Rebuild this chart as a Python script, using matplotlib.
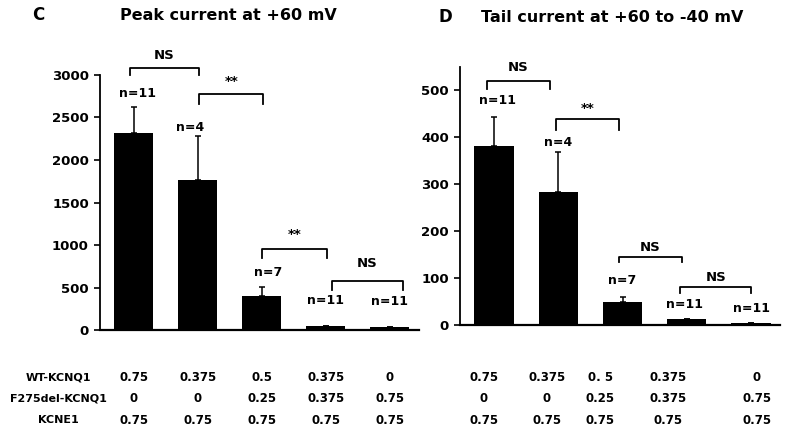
import numpy as np
import matplotlib
matplotlib.use("Agg")
import matplotlib.pyplot as plt
from matplotlib.transforms import blended_transform_factory

plt.rcParams['font.family'] = ['DejaVu Sans']
plt.rcParams['font.weight'] = 'bold'

# data
peak_mean = [2320, 1760, 400, 50, 35]
peak_err = [300, 520, 105, 0, 0]
tail_mean = [381, 283, 49, 12, 4]
tail_err = [62, 85, 11, 0, 0]
n_labels = ['n=11', 'n=4', 'n=7', 'n=11', 'n=11']

row_names = ['WT-KCNQ1', 'F275del-KCNQ1', 'KCNE1']
wt_left = ['0.75', '0.375', '0.5', '0.375', '0']
wt_right = ['0.75', '0.375', '0. 5', '0.375', '0']
f275_vals = ['0', '0', '0.25', '0.375', '0.75']
kcne1_vals = ['0.75', '0.75', '0.75', '0.75', '0.75']

# brackets: (x0, x1, y bar, y legs, label, y label)
peak_brackets = [(-0.06, 1.02, 3082, 3000, 'NS', 3235),
                 (1.02, 2.02, 2776, 2660, '**', 2929),
                 (2.0, 3.02, 953, 847, '**', 1118),
                 (3.1, 4.2, 576, 470, 'NS', 788)]
tail_brackets = [(-0.11, 0.87, 521, 504, 'NS', 549),
                 (0.96, 1.94, 440, 415, '**', 462),
                 (1.94, 2.93, 145, 134, 'NS', 166),
                 (2.9, 4.0, 81, 68, 'NS', 102)]
peak_n_y = [2788, 2388, 682, 353, 330]
tail_n_y = [479, 389, 94, 43, 36]

fig = plt.figure(figsize=(7.89, 4.36), dpi=100)
axL = fig.add_axes([0.1267, 0.2431, 0.404, 0.5849])
axR = fig.add_axes([0.583, 0.2546, 0.4056, 0.5917])

x = np.arange(5)


def draw_panel(ax, means, errs, ylim, yticks, brackets, n_y, n_dx):
    ax.bar(x, means, width=0.61, color='black', zorder=2)
    lower = np.zeros(5)
    ax.errorbar(x, means, yerr=[lower, errs], fmt='none', ecolor='black',
                elinewidth=1.1, capsize=2, capthick=1.1, zorder=1)
    ax.set_xlim(-0.53, 4.45)
    ax.set_ylim(*ylim)
    ax.set_yticks(yticks)
    ax.set_xticks([])
    for s in ['top', 'right']:
        ax.spines[s].set_visible(False)
    ax.spines['left'].set_linewidth(1.3)
    ax.spines['bottom'].set_linewidth(1.6)
    ax.tick_params(axis='y', direction='out', length=4, width=1.2,
                   labelsize=9.5, pad=4)
    for lab in ax.get_yticklabels():
        lab.set_fontweight('bold')
    for x0, x1, yb, yl, txt, yt in brackets:
        ax.plot([x0, x0, x1, x1], [yl, yb, yb, yl], color='black', lw=1.3,
                clip_on=False)
        ax.text((x0 + x1) / 2, yt, txt, ha='center', va='center',
                fontsize=9.5, fontweight='bold', clip_on=False)
    for i, (lab, yy) in enumerate(zip(n_labels, n_y)):
        ax.text(i + n_dx[i], yy, lab, ha='center', va='center', fontsize=9,
                fontweight='bold', clip_on=False)


draw_panel(axL, peak_mean, peak_err, (0, 3000),
           [0, 500, 1000, 1500, 2000, 2500, 3000], peak_brackets, peak_n_y,
           [0.05, -0.12, 0.1, 0.0, 0.0])
draw_panel(axR, tail_mean, tail_err, (0, 550),
           [0, 100, 200, 300, 400, 500], tail_brackets, tail_n_y,
           [0.05, 0.0, 0.0, -0.03, 0.0])

# panel titles
fig.text(38 / 789, 1 - 15 / 436, 'C', fontsize=12, fontweight='bold',
         ha='center', va='center')
fig.text(228 / 789, 1 - 15 / 436, 'Peak current at +60 mV', fontsize=11.5,
         fontweight='bold', ha='center', va='center')
fig.text(445 / 789, 1 - 17 / 436, 'D', fontsize=12, fontweight='bold',
         ha='center', va='center')
fig.text(612 / 789, 1 - 17 / 436, 'Tail current at +60 to -40 mV',
         fontsize=11.5, fontweight='bold', ha='center', va='center')

# composition table under the bars
row_y = [1 - 377 / 436, 1 - 398 / 436, 1 - 420 / 436]
for name, yy in zip(row_names, row_y):
    fig.text(58 / 789, yy, name, fontsize=8, fontweight='bold',
             ha='center', va='center')

col_left = [0, 1, 2, 3, 4]
col_right = [-0.16, 0.82, 1.65, 2.71, 4.09]
for ax, cols, wt in [(axL, col_left, wt_left), (axR, col_right, wt_right)]:
    tr = blended_transform_factory(ax.transData, fig.transFigure)
    for r, vals in enumerate([wt, f275_vals, kcne1_vals]):
        for cx, v in zip(cols, vals):
            ax.text(cx, row_y[r], v, transform=tr, fontsize=8.5,
                    fontweight='bold', ha='center', va='center',
                    clip_on=False)

fig.savefig('out.png', dpi=100)
